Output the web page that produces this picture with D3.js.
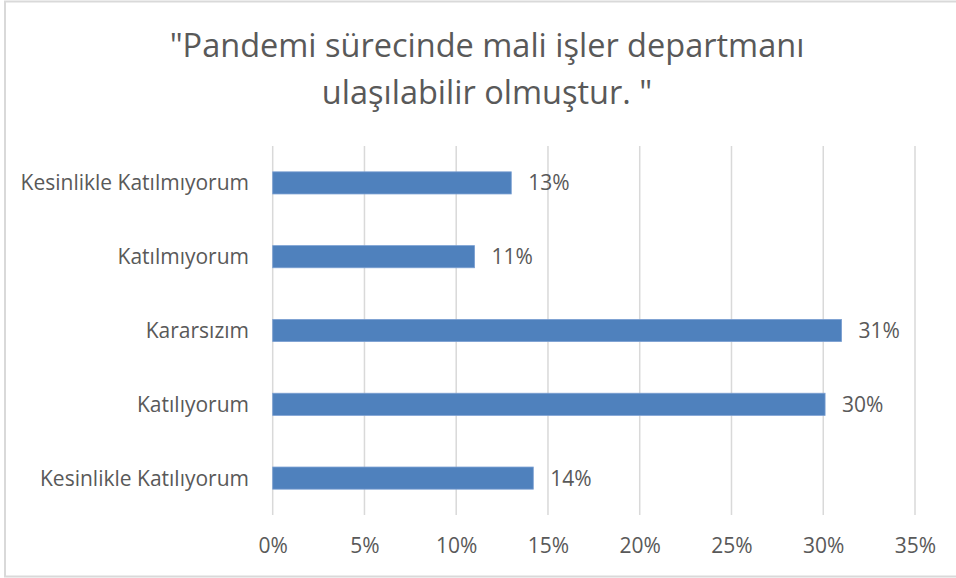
<!DOCTYPE html>
<html>
<head>
<meta charset="utf-8">
<script src="https://cdn.jsdelivr.net/npm/d3@7"></script>
<style>
  html, body { margin: 0; padding: 0; background: #fff; }
  svg { display: block; }
  text { font-family: "Open Sans", "Noto Sans", sans-serif; fill: #595959; }
</style>
</head>
<body>
<svg id="chart" width="956" height="578"></svg>
<script>
const titleLines = ['"Pandemi sürecinde mali işler departmanı', 'ulaşılabilir olmuştur. "'];
const categories = ["Kesinlikle Katılmıyorum", "Katılmıyorum", "Kararsızım", "Katılıyorum", "Kesinlikle Katılıyorum"];
const values = [0.13, 0.11, 0.31, 0.301, 0.142];
const valueLabels = ["13%", "11%", "31%", "30%", "14%"];
const tickValues = [0, 0.05, 0.10, 0.15, 0.20, 0.25, 0.30, 0.35];

const svg = d3.select("#chart");

// chart border
svg.append("rect")
  .attr("x", 5).attr("y", 1.5).attr("width", 960).attr("height", 575)
  .attr("fill", "#fff").attr("stroke", "#d9d9d9").attr("stroke-width", 2);

const plot = { left: 272.7, right: 915, top: 146, bottom: 515 };

const x = d3.scaleLinear().domain([0, 0.35]).range([plot.left, plot.right]);
const y = d3.scaleBand().domain(categories).range([plot.top, plot.bottom]).paddingInner(0.7).paddingOuter(0.35);

// title
svg.append("text")
  .attr("x", 487).attr("y", 56.5)
  .attr("text-anchor", "middle")
  .style("font-size", "32.5px")
  .selectAll("tspan").data(titleLines).join("tspan")
  .attr("x", 487).attr("dy", (d, i) => i === 0 ? 0 : 47)
  .text(d => d);

// gridlines
svg.append("g").selectAll("line").data(tickValues).join("line")
  .attr("x1", d => x(d)).attr("x2", d => x(d))
  .attr("y1", plot.top).attr("y2", plot.bottom)
  .attr("stroke", "#d9d9d9").attr("stroke-width", 1.5);

// x axis tick labels
const xAxis = d3.axisBottom(x).tickValues(tickValues).tickFormat(d3.format(".0%")).tickSize(0).tickPadding(0);
const gx = svg.append("g").attr("transform", `translate(0,${plot.bottom})`).call(xAxis);
gx.select(".domain").remove();
gx.selectAll("text").attr("y", 38).attr("dy", 0)
  .style("font-size", "21px").attr("fill", "#595959");

// y axis labels
const yAxis = d3.axisLeft(y).tickSize(0).tickPadding(0);
const gy = svg.append("g").attr("transform", `translate(249,0)`).call(yAxis);
gy.select(".domain").remove();
gy.selectAll("text").attr("dy", "0.36em").style("font-size", "21px").attr("fill", "#595959");

// bars
svg.append("g").selectAll("rect").data(categories).join("rect")
  .attr("x", x(0))
  .attr("y", d => y(d))
  .attr("width", (d, i) => x(values[i]) - x(0))
  .attr("height", y.bandwidth())
  .attr("fill", "#4f81bd")
  .attr("stroke", "#7a9fd2").attr("stroke-width", 0.8);

// data labels
svg.append("g").selectAll("text").data(categories).join("text")
  .attr("x", (d, i) => x(values[i]) + 17)
  .attr("y", d => y(d) + y.bandwidth() / 2)
  .attr("dy", "0.36em")
  .style("font-size", "21px")
  .text((d, i) => valueLabels[i]);
</script>
</body>
</html>
